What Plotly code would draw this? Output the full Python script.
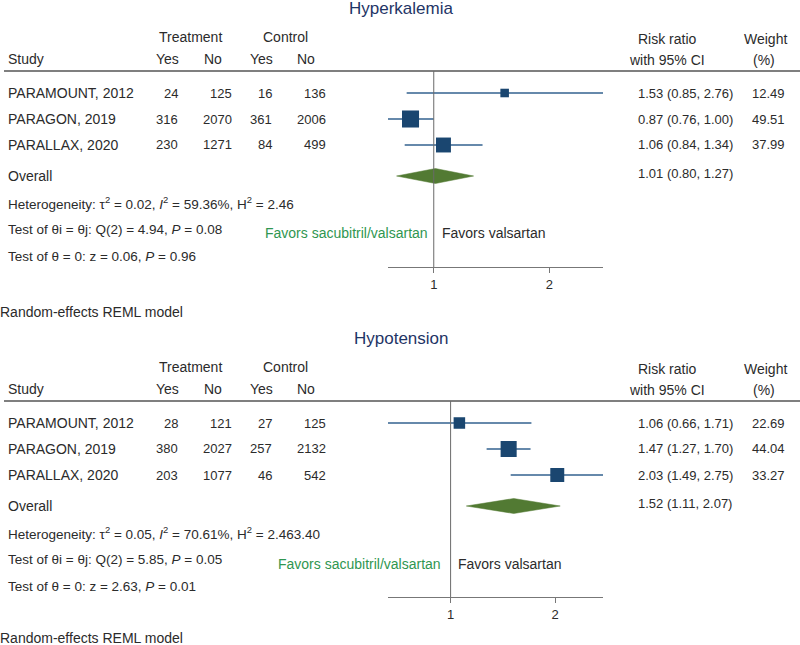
import plotly.graph_objects as go
import math

# ---------------- data ----------------
studies = ["PARAMOUNT, 2012", "PARAGON, 2019", "PARALLAX, 2020"]

# Hyperkalemia
hk_t_yes = [24, 316, 230]
hk_t_no = [125, 2070, 1271]
hk_c_yes = [16, 361, 84]
hk_c_no = [136, 2006, 499]
hk_rr = [1.53, 0.87, 1.06]
hk_lo = [0.85, 0.76, 0.84]
hk_hi = [2.76, 1.00, 1.34]
hk_w = [12.49, 49.51, 37.99]
hk_overall = (1.01, 0.80, 1.27)
hk_stats = [
    "Heterogeneity: τ<sup>2</sup> = 0.02, <i>I</i><sup>2</sup> = 59.36%, H<sup>2</sup> = 2.46",
    "Test of θi = θj: Q(2) = 4.94, <i>P</i> = 0.08",
    "Test of θ = 0: z = 0.06, <i>P</i> = 0.96",
]

# Hypotension
hp_t_yes = [28, 380, 203]
hp_t_no = [121, 2027, 1077]
hp_c_yes = [27, 257, 46]
hp_c_no = [125, 2132, 542]
hp_rr = [1.06, 1.47, 2.03]
hp_lo = [0.66, 1.27, 1.49]
hp_hi = [1.71, 1.70, 2.75]
hp_w = [22.69, 44.04, 33.27]
hp_overall = (1.52, 1.11, 2.07)
hp_stats = [
    "Heterogeneity: τ<sup>2</sup> = 0.05, <i>I</i><sup>2</sup> = 70.61%, H<sup>2</sup> = 2.463.40",
    "Test of θi = θj: Q(2) = 5.85, <i>P</i> = 0.05",
    "Test of θ = 0: z = 2.63, <i>P</i> = 0.01",
]

tick_vals = [1, 2]
tick_text = ["1", "2"]

# ---------------- style ----------------
W, H = 800, 645
FONT = "Liberation Sans, Arial, sans-serif"
TXT = "#2b2b2b"
NAVY = "#1a4670"
CI_COL = "#33628f"
DIAM = "#527a33"
GREEN = "#2f9650"
TITLE_COL = "#1f3566"
FS_W = 14     # words
FS_N = 13     # numbers
FS_S = 13.5   # statistics lines

fig = go.Figure()
annotations = []
shapes = []


def px(x):
    return x / W


def py(y):
    return 1 - y / H


def text(x, y, s, anchor="left", color=TXT, size=FS_W, xref="paper", xshift=None):
    if xshift is None:
        xshift = {"left": -2, "right": 2, "center": 0}[anchor]
    annotations.append(dict(
        x=x if xref != "paper" else px(x), y=py(y), xref=xref, yref="paper", text=s,
        showarrow=False, xanchor=anchor, yanchor="middle", xshift=xshift,
        font=dict(family=FONT, size=size, color=color)))


def panel(top, idx, title, t_yes, t_no, c_yes, c_no, rr, lo, hi, w, overall, stats,
          note_off, fav_gap):
    # vertical layout (pixel rows from top of picture)
    y_title = top + 8
    y_group = top + 37
    y_head = top + 59
    y_rule = top + 71
    rows = [top + 93 + 26 * i for i in range(len(rr))]
    y_overall = rows[-1] + 31
    stat_rows = [y_overall + 27 + 26.5 * i for i in range(len(stats))]
    y_axis = top + 267
    y_note = top + note_off

    xs = "x" if idx == 1 else "x2"
    ys = "y" if idx == 1 else "y2"

    text(401, y_title, title, anchor="center", color=TITLE_COL, size=17)
    text(190, y_group, "Treatment", anchor="center")
    text(285, y_group, "Control", anchor="center")
    text(8, y_head, "Study")
    for cx, lab in zip([167, 213, 261, 306], ["Yes", "No", "Yes", "No"]):
        text(cx, y_head, lab, anchor="center")
    text(667, y_group + 2, "Risk ratio", anchor="center")
    text(667, y_head + 1, "with 95% CI", anchor="center")
    text(765, y_group + 2, "Weight", anchor="center")
    text(764, y_head + 1, "(%)", anchor="center")

    shapes.append(dict(type="line", xref="paper", yref="paper", x0=px(4), x1=1,
                       y0=py(y_rule), y1=py(y_rule), line=dict(color="#555555", width=1.5)))
    shapes.append(dict(type="line", xref=xs, yref="paper", x0=1, x1=1,
                       y0=py(y_rule), y1=py(y_axis), line=dict(color="#6a6a6a", width=1)))

    for i, yy in enumerate(rows):
        text(8, yy, studies[i])
        text(178, yy, str(t_yes[i]), anchor="right", size=FS_N)
        text(232, yy, str(t_no[i]), anchor="right", size=FS_N)
        text(272, yy, str(c_yes[i]), anchor="right", size=FS_N)
        text(326, yy, str(c_no[i]), anchor="right", size=FS_N)
        text(638, yy, f"{rr[i]:.2f} ({lo[i]:.2f}, {hi[i]:.2f})", size=FS_N)
        text(785, yy, f"{w[i]:.2f}", anchor="right", size=FS_N)

    text(8, y_overall, "Overall")
    text(638, y_overall - 3, f"{overall[0]:.2f} ({overall[1]:.2f}, {overall[2]:.2f})", size=FS_N)
    for s, yy in zip(stats, stat_rows):
        text(8, yy, s, size=FS_S)
    text(0, y_note, "Random-effects REML model")

    # favors labels around the null line (annotation x on a log axis is log10 of value)
    text(math.log10(1), stat_rows[1] + 4, "Favors sacubitril/valsartan", anchor="right",
         color=GREEN, xref=xs, xshift=-fav_gap[0])
    text(math.log10(1), stat_rows[1] + 4, "Favors valsartan", anchor="left", xref=xs,
         xshift=fav_gap[1])

    # CI lines
    lx, ly = [], []
    for i, yy in enumerate(rows):
        lx += [lo[i], hi[i], None]
        ly += [yy, yy, None]
    fig.add_trace(go.Scatter(x=lx, y=ly, mode="lines", xaxis=xs, yaxis=ys,
                             line=dict(color=CI_COL, width=1.3), hoverinfo="skip",
                             showlegend=False))
    # squares sized by weight
    fig.add_trace(go.Scatter(x=rr, y=rows, mode="markers", xaxis=xs, yaxis=ys,
                             marker=dict(symbol="square", color=NAVY, opacity=1,
                                         size=[2.42 * math.sqrt(v) for v in w],
                                         line=dict(width=0)),
                             showlegend=False))
    # overall diamond
    est, olo, ohi = overall
    hh = 7.5
    fig.add_trace(go.Scatter(x=[olo, est, ohi, est, olo],
                             y=[y_overall, y_overall - hh, y_overall, y_overall + hh, y_overall],
                             mode="lines", fill="toself", fillcolor=DIAM,
                             line=dict(color=DIAM, width=0.5), xaxis=xs, yaxis=ys,
                             showlegend=False))

    xaxis = dict(type="log", range=[math.log10(min(lo)), math.log10(max(hi))],
                 domain=[px(388), px(603)], anchor=ys,
                 tickvals=tick_vals, ticktext=tick_text, ticks="outside", ticklen=5,
                 tickcolor="#777777", showline=True, linecolor="#777777", linewidth=1.3,
                 showgrid=False, zeroline=False, fixedrange=True,
                 tickfont=dict(family=FONT, size=FS_N, color=TXT))
    # y axis in pixel-row units: top of panel to axis line
    yaxis = dict(range=[y_axis, top], domain=[py(y_axis), py(top)], anchor=xs,
                 visible=False, fixedrange=True)
    return xaxis, yaxis


ax1, ay1 = panel(0, 1, "Hyperkalemia", hk_t_yes, hk_t_no, hk_c_yes, hk_c_no,
                 hk_rr, hk_lo, hk_hi, hk_w, hk_overall, hk_stats, 312, (4, 6))
ax2, ay2 = panel(330, 2, "Hypotension", hp_t_yes, hp_t_no, hp_c_yes, hp_c_no,
                 hp_rr, hp_lo, hp_hi, hp_w, hp_overall, hp_stats, 308, (8, 5))

fig.update_layout(
    width=W, height=H,
    margin=dict(l=0, r=0, t=0, b=0),
    paper_bgcolor="white", plot_bgcolor="white",
    xaxis=ax1, yaxis=ay1, xaxis2=ax2, yaxis2=ay2,
    annotations=annotations, shapes=shapes,
    showlegend=False,
    font=dict(family=FONT, size=FS_W, color=TXT),
)

fig.write_html("out.html", config={"displayModeBar": False},
               post_script="document.body.style.margin='0';document.body.style.padding='0';")
